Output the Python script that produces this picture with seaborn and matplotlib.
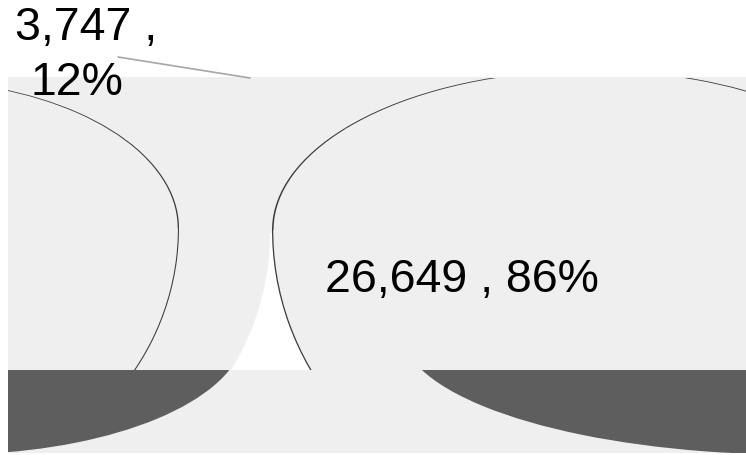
import matplotlib
matplotlib.use("Agg")
import matplotlib.pyplot as plt
import seaborn as sns

# ---- data -------------------------------------------------------------
categories = ["Segment A", "Segment B", "Other"]
values = [26649, 3747, 602]

# ---- style ------------------------------------------------------------
sns.set_style("white")
plt.rcParams["font.family"] = ["Liberation Sans", "DejaVu Sans"]

LIGHT = "#efefef"
DARK = "#5e5e5e"
OUTLINE = "#3c3c3c"
LEADER = "#a6a6a6"

W, H = 746, 455
fig = plt.figure(figsize=(W / 100, H / 100), dpi=100)
fig.patch.set_facecolor("white")


def px_axes(x0, y0, x1, y1, z):
    return fig.add_axes([x0 / W, 1 - y1 / H, (x1 - x0) / W, (y1 - y0) / H], zorder=z)


def plain_axes(box, z, face):
    ax = px_axes(*box, z)
    ax.set_facecolor(face)
    ax.set_xticks([])
    ax.set_yticks([])
    for s in ax.spines.values():
        s.set_visible(False)
    return ax


def ellipse_pie(cx, cy, a, b, box, z, color, ring=None):
    x0, y0, x1, y1 = box
    ax = px_axes(x0, y0, x1, y1, z)
    wp = dict(edgecolor="none", linewidth=0)
    if ring is not None:
        wp["width"] = ring
    wedges, _ = ax.pie(values, colors=[color] * len(values), radius=1,
                       startangle=90, counterclock=False, wedgeprops=wp)
    ax.set_aspect("auto")
    ax.set_xlim((x0 - cx) / a, (x1 - cx) / a)
    ax.set_ylim((cy - y1) / b, (cy - y0) / b)
    ax.set_axis_off()
    for w in wedges:
        w.set_clip_on(True)
        w.set_clip_path(ax.patch)
    return ax


# light top face of the (distorted) 3-D pie
plain_axes((8, 77, 746, 453), 0, LIGHT)

# white gap between the two pie bodies
plain_axes((150, 233, 330, 370), 1, "white")
ellipse_pie(0, 233, 270, 265, (150, 233, 330, 370), 1.5, LIGHT)
ellipse_pie(590, 230, 318, 295, (150, 233, 330, 370), 1.5, LIGHT)

# outlines of the two pie bodies (upper / lower halves)
ellipse_pie(590, 230, 318, 160, (8, 78, 746, 230), 2, OUTLINE, ring=0.005)
ellipse_pie(590, 230, 318, 295, (8, 230, 746, 370), 2, OUTLINE, ring=0.004)
ellipse_pie(-90, 228, 269, 148, (8, 78, 746, 228), 2, OUTLINE, ring=0.005)
ellipse_pie(-90, 228, 269, 260, (8, 228, 746, 370), 2, OUTLINE, ring=0.004)

# dark sides of the pie
ellipse_pie(-50, 330, 295, 124.6, (8, 370, 400, 453), 3, DARK)
ellipse_pie(796, 330, 395, 124.7, (300, 370, 746, 453), 3, DARK)

# ---- labels -----------------------------------------------------------
total = sum(values)
pct = [round(v / total * 100) for v in values]

ax_t = fig.add_axes([0, 0, 1, 1], zorder=10)
ax_t.set_xlim(0, W)
ax_t.set_ylim(H, 0)
ax_t.set_axis_off()

fs = 33.5
ax_t.text(325, 292, f"{values[0]:,} , {pct[0]}%", fontsize=fs, color="black",
          ha="left", va="baseline")
ax_t.text(15, 40, f"{values[1]:,} ,", fontsize=fs, color="black",
          ha="left", va="baseline")
ax_t.text(31, 95, f"{pct[1]}%", fontsize=fs, color="black",
          ha="left", va="baseline")
ax_t.annotate("", xy=(250, 78), xytext=(118, 57),
              arrowprops=dict(arrowstyle="-", color=LEADER, lw=1.2,
                              shrinkA=0, shrinkB=0))

fig.savefig("out.png", dpi=100, facecolor="white")
